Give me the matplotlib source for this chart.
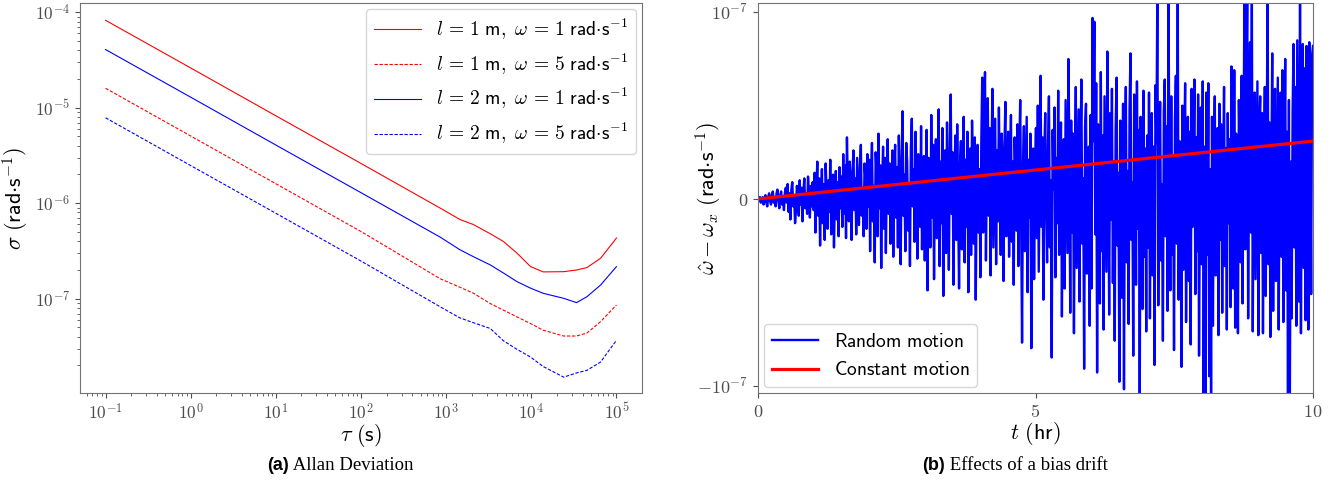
import matplotlib
matplotlib.use('Agg')
import matplotlib.pyplot as plt
from matplotlib.ticker import FuncFormatter
import numpy as np

plt.rcParams['mathtext.fontset'] = 'cm'
plt.rcParams['axes.edgecolor'] = '0.45'
plt.rcParams['xtick.color'] = '0.3'
plt.rcParams['ytick.color'] = '0.3'

# (a) Allan deviation
tau = [0.1, 1, 10, 100, 850, 1450, 2100, 3300, 4700, 6800, 9800,
       13800, 24000, 34000, 45000, 65000, 100000]
sigma_l1_w1 = [8.24e-5, 2.61e-5, 8.24e-6, 2.61e-6, 8.9e-7, 6.76e-7, 5.97e-7, 4.79e-7, 3.98e-7,
               3.0e-7, 2.17e-7, 1.91e-7, 1.92e-7, 2.0e-7, 2.12e-7, 2.65e-7, 4.32e-7]
sigma_l1_w5 = [1.6e-5, 5.06e-6, 1.6e-6, 5.06e-7, 1.62e-7, 1.32e-7, 1.14e-7, 8.9e-8, 7.6e-8,
               6.45e-8, 5.5e-8, 4.68e-8, 4.07e-8, 4.07e-8, 4.37e-8, 5.75e-8, 8.6e-8]
sigma_l2_w1 = [4.07e-5, 1.29e-5, 4.07e-6, 1.29e-6, 4.42e-7, 3.26e-7, 2.75e-7, 2.26e-7, 1.86e-7,
               1.51e-7, 1.29e-7, 1.14e-7, 1.01e-7, 9.1e-8, 1.05e-7, 1.39e-7, 2.17e-7]
sigma_l2_w5 = [7.85e-6, 2.48e-6, 7.85e-7, 2.48e-7, 8.24e-8, 6.3e-8, 5.6e-8, 4.88e-8, 3.63e-8,
               2.95e-8, 2.45e-8, 1.95e-8, 1.51e-8, 1.67e-8, 1.78e-8, 2.17e-8, 3.67e-8]

# (b) bias drift, in units of 1e-8 rad/s, 60 samples per hour
random_motion = [
    0.0, -0.1, 0.1, -0.2, -0.1, 0.1, -0.3, 0.0, 0.2, -0.2, -0.4, 0.1, 0.3, -0.1, -0.3,
    0.2, 0.4, -0.2, 0.1, -0.4, 0.3, 0.5, -0.1, -0.5, 0.2, 0.4, -0.3, 0.1, -0.6, 0.3,
    0.6, -0.2, 0.8, -0.7, 0.3, -1.1, 0.5, 0.9, -0.4, 0.2, -1.3, -0.6, 0.7, 0.1, -0.9,
    1.0, -0.3, 0.6, -1.2, 0.4, 1.1, -0.5, 0.3, -0.8, 1.2, 0.2, -1.0, 0.7, -0.4, 0.9,
    -0.6, 1.4, -1.8, 0.5, 2.0, -0.9, 1.1, -2.5, 0.3, 1.6, -1.3, 0.8, -2.2, 1.9, 0.4,
    -1.6, 1.0, -0.7, 2.1, -1.9, 0.6, 1.3, -2.6, 0.2, 1.5, -1.1, 0.9, -2.0, 1.7, -0.5,
    1.2, -1.5, 2.4, -0.8, 1.8, -2.1, 3.3, 0.5, -1.2, 2.0, 0.9, -2.2, 1.4, 2.6, -0.6,
    1.1, -1.9, 2.2, 0.3, -1.4, 1.7, 2.9, -0.9, 0.6, -2.0, 1.9, 1.0, -1.6, 2.4, -0.4,
    2.1, -2.8, 1.3, 3.0, -1.2, 0.7, -3.4, 2.5, 1.4, -2.0, 3.5, -0.5, 1.8, -3.7, 0.9,
    2.8, -1.6, 2.2, -2.9, 1.1, 3.2, -0.8, 1.9, -2.4, 0.4, 2.6, -3.1, 1.5, 2.9, -1.0,
    1.7, -2.6, 3.4, 0.6, -3.5, 2.1, 4.7, -0.9, 1.3, -2.8, 3.0, 2.0, -1.7, 0.8, -3.6,
    2.7, 4.3, -0.4, 1.6, -2.3, 3.6, 0.9, -3.2, 2.4, 1.2, -1.5, 3.9, -2.7, 0.5, 2.3,
    -3.3, 1.0, 3.7, -4.9, 2.2, 0.4, -2.6, 4.5, -1.0, 2.9, -4.3, 1.5, 3.2, -2.1, 0.7,
    4.8, -3.6, 2.0, -1.3, 3.8, -5.2, 0.9, 2.6, -2.9, 4.1, 1.2, -3.8, 2.3, 5.6, -0.8,
    2.5, -4.6, 1.1, 3.4, -2.2, 4.0, -0.5, -4.8, 1.8, 3.1, -2.7, 0.6, 4.4, -3.4, 2.1,
    -1.5, 3.6, -5.0, 0.8, 2.7, -3.0, 4.2, 1.3, -2.4, 3.3, -5.4, 0.2, 2.9, -1.8, 1.6,
    -4.2, 3.0, 6.5, -1.8, 4.6, 6.8, -3.3, 1.5, 5.4, -0.9, 3.8, -4.1, 2.2, 5.9, -2.6,
    0.8, 4.3, -3.5, 2.6, -1.2, 4.9, 0.4, -3.0, 3.5, 1.9, -4.4, 2.8, 5.2, -2.0, 1.0,
    3.6, -3.1, 1.4, 4.5, -2.3, 2.0, -4.6, 3.3, 0.6, -1.7, 4.0, -3.6, 2.5, 5.3, -1.4,
    -7.7, 1.8, 3.9, -2.8, 0.9, 4.4, -5.0, 2.1, -1.0, 3.5, -8.0, 0.3, 2.7, -4.3, 1.6,
    3.8, -2.1, 5.0, -3.9, 1.2, 6.6, -1.5, 3.3, -5.4, 2.4, 4.6, -0.8, -3.4, 2.9, 5.5,
    -2.6, 1.0, -8.5, 3.7, 0.5, 4.9, -4.2, 2.2, -1.3, 5.8, -3.0, 1.7, 4.1, -6.3, 0.8,
    3.2, -4.8, 5.3, 1.4, -2.9, 7.5, 2.6, -6.1, 4.2, -1.8, 3.5, -7.2, 1.9, 6.0, -3.7,
    0.7, 4.8, -5.5, 2.3, 6.4, -2.4, 1.1, -9.1, 3.9, 5.1, -4.0, 0.4, 2.8, -6.8, 4.5,
    -4.8, 9.7, 3.1, 9.5, -1.9, 6.2, -9.3, 4.0, 1.2, -5.6, 6.8, -2.8, 3.4, -7.0, 5.5,
    0.6, -3.9, 7.9, 2.3, -6.2, 4.6, -1.1, 5.9, -4.5, 2.0, -7.6, 3.8, 6.5, -2.5, 1.4,
    -9.8, 4.2, 2.6, -5.3, 5.1, -10.2, 3.0, 6.0, -3.4, 1.5, -6.7, 4.8, 7.8, -2.2, 0.9,
    -8.4, 5.6, 2.4, -4.6, 6.3, -1.6, 3.7, -10.6, 4.4, 1.0, -5.9, 5.8, -3.1, 2.7, -7.1,
    3.4, -2.6, 5.7, -6.4, 1.9, 4.6, -4.1, 2.8, -8.9, 6.1, 3.0, 11.0, -5.7, 2.4, 5.2,
    -3.3, 0.8, -7.6, 4.7, 6.4, -2.0, 3.9, -6.0, 11.0, 1.6, -4.9, 5.5, -3.0, 2.2, -8.1,
    4.3, 6.6, -2.4, 11.0, -5.4, 3.1, 0.9, -9.0, 5.0, -3.8, 2.6, 6.2, -6.6, 1.3, 4.4,
    -4.4, 3.6, -7.8, 5.9, -1.5, 2.1, 6.4, -5.1, 3.3, -2.8, 5.6, -8.4, 0.7, 4.9, -3.5,
    6.3, -11.0, 2.8, -11.0, 5.7, -3.0, 6.2, -9.5, 1.6, -11.0, 4.4, -6.8, 2.3, 5.5, -4.1,
    0.9, 3.8, -7.3, 5.1, -2.2, 4.0, -6.1, 1.5, 6.0, -3.6, 2.7, -7.0, 4.6, -1.3, 3.2,
    -5.8, 7.1, 2.0, -4.8, 6.9, -6.9, 3.5, 0.8, -7.2, 5.3, 1.9, -3.4, 6.6, -5.6, 2.9,
    11.0, -2.7, 4.8, 11.0, -6.4, 3.1, 8.4, -1.8, 11.0, -7.1, 2.4, 5.7, -4.3, 1.2, 6.3,
    -7.3, 3.8, 5.5, -2.9, 4.6, -7.2, 1.6, 6.0, -5.2, 2.8, 11.0, -3.5, 4.1, -7.4, 1.0,
    7.8, -6.0, 3.4, 5.9, -4.4, 0.8, 6.5, -7.0, 2.5, 5.7, -3.1, 6.9, -6.6, 1.7, 7.5,
    -4.9, 3.6, -11.0, 5.3, -11.0, 2.0, -6.4, 4.7, 8.3, -2.6, 6.0, -6.8, 8.5, 1.2, -5.5,
    11.0, -7.2, 4.4, 8.3, -3.7, 7.0, -6.5, 8.2, 2.9, -7.0, 8.4, 4.1, -5.1, 7.7, 8.2,
]
constant_t = [0, 10]
constant_motion = [0.0, 3.1]  # 1e-8 rad/s

W, H = 1341, 480
fig = plt.figure(figsize=(W / 100, H / 100), dpi=100)

def px_axes(x0, y0, x1, y1):
    return fig.add_axes([x0 / W, 1 - y1 / H, (x1 - x0) / W, (y1 - y0) / H])

def pow10(v, pos):
    return r'$10^{%d}$' % int(round(np.log10(v)))

def leg(l, w):
    return r'$l\,=\,%d\ \mathsf{m},\ \omega\,=\,%d\ \mathsf{rad{\cdot}s}^{-1}$' % (l, w)

# ---- (a) ----
ax1 = px_axes(80, 3, 642, 393)
lw = 0.8
ax1.loglog(tau, sigma_l1_w1, color='red', lw=lw, label=leg(1, 1))
ax1.loglog(tau, sigma_l1_w5, color='red', lw=lw, ls=(0, (3, 1.5)), label=leg(1, 5))
ax1.loglog(tau, sigma_l2_w1, color='blue', lw=lw, label=leg(2, 1))
ax1.loglog(tau, sigma_l2_w5, color='blue', lw=lw, ls=(0, (3, 1.5)), label=leg(2, 5))
ax1.set_ylim(1.03e-8, 1.25e-4)
ax1.xaxis.set_major_formatter(FuncFormatter(pow10))
ax1.yaxis.set_major_formatter(FuncFormatter(pow10))
ax1.set_xlabel(r'$\tau\ \mathsf{(s)}$', fontsize=16)
ax1.set_ylabel(r'$\sigma\ \mathsf{(rad{\cdot}s^{-1})}$', fontsize=16)
ax1.xaxis.set_label_coords(0.5, -0.074)
ax1.yaxis.set_label_coords(-0.088, 0.5)
ax1.tick_params(labelsize=12.5)
ax1.legend(loc='upper right', fontsize=14, handlelength=2.4, borderaxespad=0.3)

# ---- (b) ----
ax2 = px_axes(758, 3, 1313, 393)
t = np.linspace(0, 10, len(random_motion))
ax2.plot(t, np.array(random_motion) * 1e-8, color='blue', lw=1.7, label=r'$\mathsf{Random\ motion}$')
ax2.plot(constant_t, np.array(constant_motion) * 1e-8, color='red', lw=2.3,
         label=r'$\mathsf{Constant\ motion}$')
ax2.set_xlim(0, 10)
ax2.set_ylim(-1.04e-7, 1.05e-7)
ax2.set_xticks([0, 5, 10])
ax2.set_xticklabels([r'$0$', r'$5$', r'$10$'])
ax2.set_yticks([-1e-7, 0, 1e-7])
ax2.set_yticklabels([r'$-10^{-7}$', r'$0$', r'$10^{-7}$'])
ax2.tick_params(labelsize=13)
ax2.set_xlabel(r'$t\ \mathsf{(hr)}$', fontsize=16)
ax2.set_ylabel(r'$\hat{\omega} - \omega_x\ \mathsf{(rad{\cdot}s^{-1})}$', fontsize=16)
ax2.xaxis.set_label_coords(0.5, -0.07)
ax2.yaxis.set_label_coords(-0.061, 0.5)
ax2.legend(loc='lower left', fontsize=14, handlelength=2.4, borderaxespad=0.3)

# sub captions
def caption(xc, tag, text):
    t1 = fig.text(0, 1 - 465 / H, tag, fontsize=13, fontweight='bold', family='Liberation Sans', va='center')
    t2 = fig.text(0, 1 - 465 / H, ' ' + text, fontsize=13.5, family='Liberation Serif', va='center')
    fig.canvas.draw()
    r = fig.canvas.get_renderer()
    w1 = t1.get_window_extent(r).width
    w2 = t2.get_window_extent(r).width
    x0 = xc - (w1 + w2) / 2
    t1.set_x(x0 / W)
    t2.set_x((x0 + w1) / W)

caption(340, '(a)', 'Allan Deviation')
caption(1015, '(b)', 'Effects of a bias drift')

fig.savefig('out.png', dpi=100)
